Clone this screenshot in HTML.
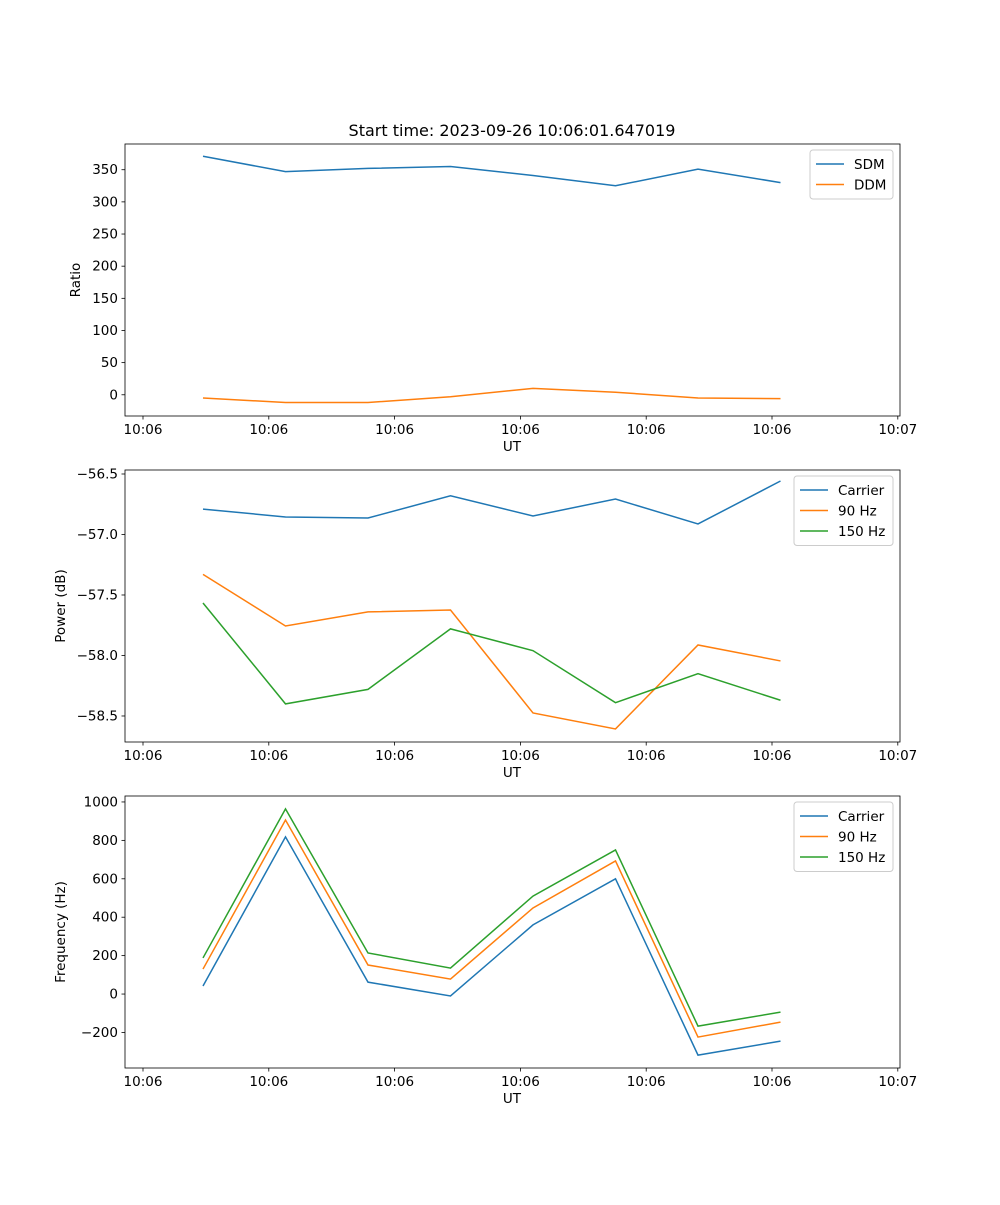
<!DOCTYPE html>
<html><head><meta charset="utf-8"><style>
body{margin:0;background:#fff}
svg text{font-family:"DejaVu Sans","Liberation Sans",sans-serif;font-size:13.5px;fill:#000}
</style></head><body>
<svg id="fig" width="1000" height="1200" xmlns="http://www.w3.org/2000/svg">
<rect width="1000" height="1200" fill="#fff"/>
<text x="512" y="136" text-anchor="middle" style="font-size:16px">Start time: 2023-09-26 10:06:01.647019</text>
</svg>
<script>
const xTickLabels = ["10:06","10:06","10:06","10:06","10:06","10:06","10:07"];
const sdm = [371,347,352,355,341,325,351,330];
const ddm = [-5,-12,-12,-3,10,4,-5,-6];
const carrierPow = [-56.79,-56.855,-56.864,-56.68,-56.847,-56.707,-56.913,-56.558];
const hz90Pow = [-57.33,-57.756,-57.64,-57.624,-58.475,-58.607,-57.913,-58.045];
const hz150Pow = [-57.566,-58.40,-58.28,-57.78,-57.96,-58.39,-58.15,-58.37];
const carrierFreq = [42,818,62,-10,360,600,-318,-245];
const hz90Freq = [130,906,151,78,448,693,-224,-146];
const hz150Freq = [188,964,214,135,510,750,-167,-94];
const ticks1 = [0,50,100,150,200,250,300,350];
const ticks2 = [-58.5,-58.0,-57.5,-57.0,-56.5];
const ticks3 = [-200,0,200,400,600,800,1000];
const svg = document.getElementById('fig');
const NS = "http://www.w3.org/2000/svg";
const C = ['#1f77b4','#ff7f0e','#2ca02c'];
function mk(t, a, p){const e=document.createElementNS(NS,t);for(const k in a)e.setAttribute(k,a[k]);(p||svg).appendChild(e);return e;}
const L=125,R=900;
// x: index -> px (first point 203, step 82.5); ticks at 143 + 125.8*k
const xs = i => 203 + 82.5*i;
const xTick = k => 143 + 125.8*k;
function panel(name, top, bot, ymin, ymax, ticks, fmt, ylabel, series, legW){
  const g = mk('g',{});
  
  
  const ys = v => bot - (v - ymin)/(ymax - ymin)*(bot - top);
  series.forEach((s,si)=>{
    const pl = mk('polyline',{points:s.data.map((v,i)=>xs(i)+','+ys(v)).join(' '),fill:'none',stroke:C[si],'stroke-width':1.5},g);
    
    
  });
  mk('rect',{x:L,y:top,width:R-L,height:bot-top,fill:'none',stroke:'#000','stroke-width':0.8},g);
  ticks.forEach(t=>{
    const y=ys(t);
    mk('line',{x1:L-3.5,x2:L,y1:y,y2:y,stroke:'#000','stroke-width':0.8},g);
    const tx=mk('text',{x:L-7,y:y+4.5,'text-anchor':'end'},g);tx.textContent=fmt(t);
    
    
  });
  xTickLabels.forEach((lab,k)=>{
    const x=xTick(k);
    mk('line',{x1:x,x2:x,y1:bot,y2:bot+3.5,stroke:'#000','stroke-width':0.8},g);
    const tx=mk('text',{x:x,y:bot+18,'text-anchor':'middle'},g);tx.textContent=lab;
    
    
  });
  const xl=mk('text',{x:512,y:bot+35,'text-anchor':'middle'},g);xl.textContent='UT';
  
  
  const yx = name==='ratio-panel'?80:65;
  const yl=mk('text',{x:yx,y:(top+bot)/2,'text-anchor':'middle',transform:'rotate(-90 '+yx+' '+(top+bot)/2+')'},g);yl.textContent=ylabel;
  
  
  const lg=mk('g',{},g);
  
  
  const lx=R-7-legW, ly=top+6;
  mk('rect',{x:lx,y:ly,width:legW,height:series.length*20.5+8,rx:3,fill:'#fff','fill-opacity':0.8,stroke:'#ccc'},lg);
  series.forEach((s,si)=>{
    const y=ly+14+si*20.5;
    mk('line',{x1:lx+6,x2:lx+34,y1:y,y2:y,stroke:C[si],'stroke-width':1.5},lg);
    const t=mk('text',{x:lx+44,y:y+5},lg);t.textContent=s.label;
    
    
  });
}
panel('ratio-panel',144,416,-33,390,ticks1,v=>String(v),'Ratio',
  [{key:'sdm',label:'SDM',data:sdm},{key:'ddm',label:'DDM',data:ddm}],83);
panel('power-panel',470,742,-58.715,-56.467,ticks2,v=>'\u2212'+Math.abs(v).toFixed(1),'Power (dB)',
  [{key:'carrier',label:'Carrier',data:carrierPow},{key:'90hz',label:'90 Hz',data:hz90Pow},{key:'150hz',label:'150 Hz',data:hz150Pow}],99);
panel('frequency-panel',796,1068,-385,1031,ticks3,v=>v<0?'\u2212'+Math.abs(v):String(v),'Frequency (Hz)',
  [{key:'carrier',label:'Carrier',data:carrierFreq},{key:'90hz',label:'90 Hz',data:hz90Freq},{key:'150hz',label:'150 Hz',data:hz150Freq}],99);
</script>
</body></html>
